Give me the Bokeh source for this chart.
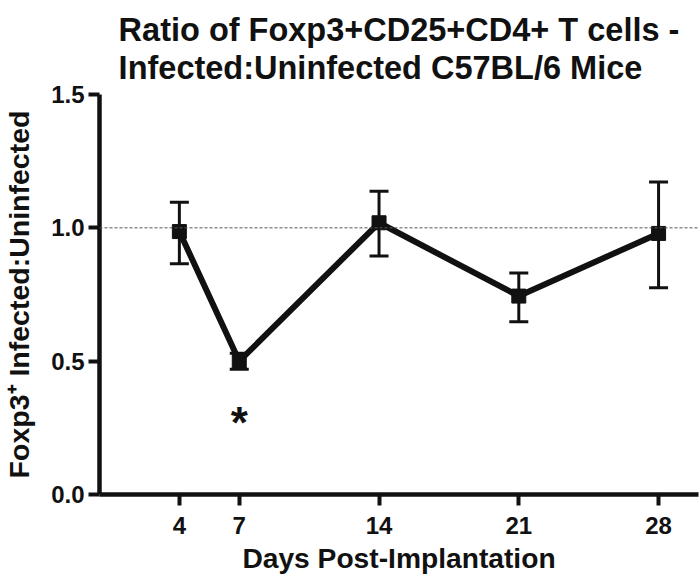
from bokeh.plotting import figure
from bokeh.models import (ColumnDataSource, Whisker, TeeHead, Span, Title,
                          FixedTicker, Range1d)
from bokeh.core.properties import value
from bokeh.embed import file_html
from bokeh.resources import INLINE

# ---- data ----
days = [4, 7, 14, 21, 28]
ratio = [0.986, 0.50, 1.019, 0.744, 0.979]
err_low = [0.865, 0.47, 0.894, 0.648, 0.775]
err_high = [1.096, 0.53, 1.137, 0.831, 1.172]
x_ticks = [4, 7, 14, 21, 28]
y_ticks = [0.0, 0.5, 1.0, 1.5]
y_tick_labels = ["0.0", "0.5", "1.0", "1.5"]
star_day = 7
star_y = 0.27
ref_value = 1.0

title_text = "Ratio of Foxp3+CD25+CD4+ T cells -\nInfected:Uninfected C57BL/6 Mice"
x_label = "Days Post-Implantation"
y_label = "Foxp3\u207A Infected:Uninfected"

FONT = "Liberation Sans"

src = ColumnDataSource(dict(x=days, y=ratio, lo=err_low, hi=err_high))

p = figure(width=699, height=576, output_backend="svg", toolbar_location=None,
           x_range=Range1d(0, 30), y_range=Range1d(0, 1.5),
           min_border_left=98, min_border_right=1, min_border_top=94,
           min_border_bottom=81, title=None)

p.add_layout(Title(text=title_text, align="center", text_font=FONT,
                   text_font_style="bold", text_font_size="32.5px",
                   text_line_height=1.08,
                   text_color="#111111", standoff=16, offset=0), "above")

p.outline_line_color = None
p.xgrid.grid_line_color = None
p.ygrid.grid_line_color = None
p.background_fill_color = "white"
p.border_fill_color = "white"

for ax in (p.xaxis[0], p.yaxis[0]):
    ax.axis_line_width = 4.5
    ax.axis_line_color = "#111111"
    ax.major_tick_line_width = 4
    ax.major_tick_line_color = "#111111"
    ax.major_tick_out = 11
    ax.major_tick_in = 0
    ax.minor_tick_line_color = None
    ax.major_label_text_font = FONT
    ax.major_label_text_font_style = "bold"
    ax.major_label_text_font_size = "24px"
    ax.major_label_text_color = "#111111"
    ax.axis_label_text_font = FONT
    ax.axis_label_text_font_style = "bold"
    ax.axis_label_text_font_size = "28.2px"
    ax.axis_label_text_color = "#111111"

p.yaxis.axis_label_text_font_size = "28.5px"
p.xaxis.ticker = FixedTicker(ticks=x_ticks)
p.yaxis.ticker = FixedTicker(ticks=y_ticks)
p.yaxis.major_label_overrides = {t: l for t, l in zip(y_ticks, y_tick_labels)}
p.xaxis.axis_label = x_label
p.yaxis.axis_label = y_label
p.xaxis.major_label_standoff = 11
p.xaxis.axis_label_standoff = 5
p.yaxis.major_label_standoff = 4
p.yaxis.axis_label_standoff = 13

p.add_layout(Span(location=ref_value, dimension="width", line_color="#555555",
                  line_width=1, line_dash="3 2"))

w = Whisker(base="x", lower="lo", upper="hi", source=src,
            line_width=3, line_color="#111111",
            upper_head=TeeHead(size=19, line_width=3, line_color="#111111"),
            lower_head=TeeHead(size=19, line_width=3, line_color="#111111"))
p.add_layout(w)

p.line("x", "y", source=src, line_width=6, line_color="#111111")
p.scatter("x", "y", source=src, marker="square", size=14,
          fill_color="#111111", line_color="#111111")

p.text(x=[star_day], y=[star_y], text=["*"], text_align="center",
       text_baseline="alphabetic", text_font=value(FONT),
       text_font_style="bold", text_font_size="44px", text_color="#111111")

open("out.html", "w").write(file_html(p, INLINE))
